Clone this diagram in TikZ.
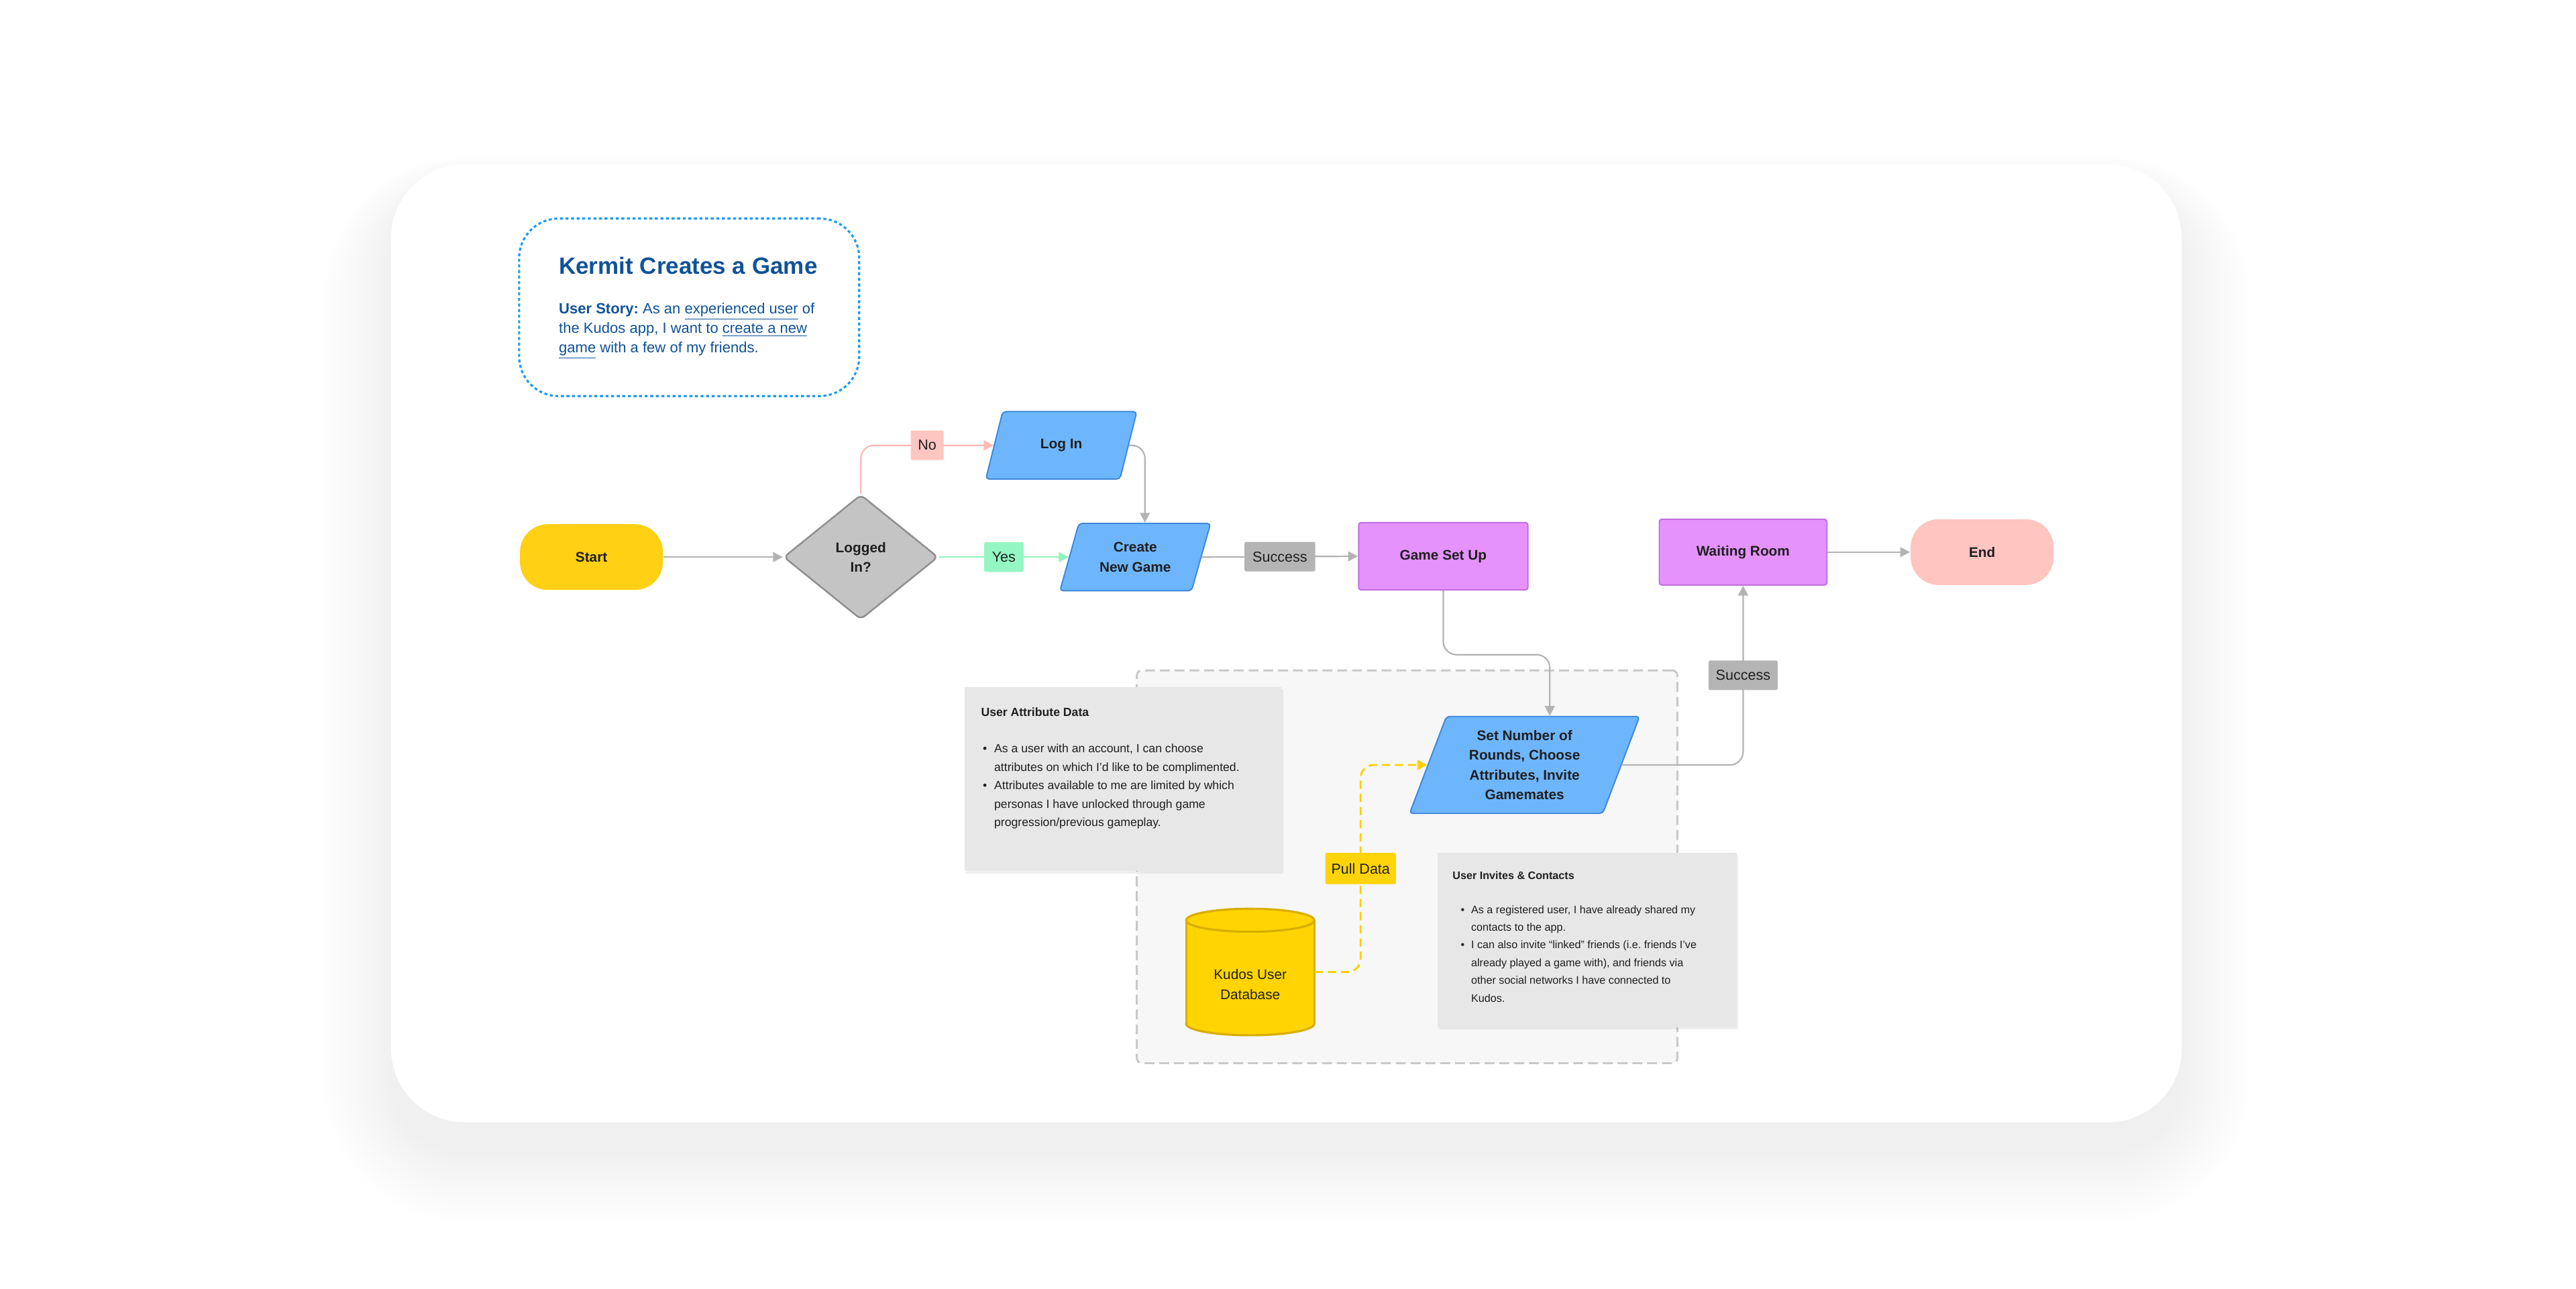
\documentclass[tikz,border=0pt]{standalone}
\usepackage{fontspec}
\setmainfont{Liberation Sans}
\usetikzlibrary{shapes.geometric, arrows.meta, shadows}
\frenchspacing

\definecolor{txt}{HTML}{1F1F1F}
\definecolor{startY}{HTML}{FFD013}
\definecolor{endP}{HTML}{FFC5C0}
\definecolor{purp}{HTML}{E592FC}
\definecolor{purpB}{HTML}{C16FDD}
\definecolor{sky}{HTML}{6EB6FC}
\definecolor{skyB}{HTML}{3F88DA}
\definecolor{diaF}{HTML}{C4C4C4}
\definecolor{diaB}{HTML}{8E8E8E}
\definecolor{lineG}{HTML}{B3B3B3}
\definecolor{succF}{HTML}{B4B4B4}
\definecolor{noF}{HTML}{FEC6C1}
\definecolor{noL}{HTML}{FDBAB5}
\definecolor{yesF}{HTML}{94F6C3}
\definecolor{yesL}{HTML}{8EF2BF}
\definecolor{pullF}{HTML}{FFD40A}
\definecolor{pullL}{HTML}{FFD000}
\definecolor{dbF}{HTML}{FFD400}
\definecolor{dbB}{HTML}{D8AE00}
\definecolor{noteF}{HTML}{E7E7E7}
\definecolor{grpF}{HTML}{F7F7F7}
\definecolor{grpB}{HTML}{C9C9C9}
\definecolor{storyB}{HTML}{1C9BF2}
\definecolor{storyT}{HTML}{0F5298}

\newcommand{\storyul}[1]{\underline{#1}}

\tikzset{
    flow/.style={line width=0.8pt, font=\fontsize{8.5}{12}\selectfont\bfseries, text=txt, align=center, inner sep=2pt},
    terminal/.style={flow, rectangle, rounded corners=17pt, minimum width=87pt, minimum height=40pt},
    process/.style={flow, rectangle, rounded corners=1.5pt, fill=purp, draw=purpB, minimum width=103pt, minimum height=41pt},
    io/.style={flow, trapezium, trapezium left angle=70, trapezium right angle=110, trapezium stretches=true,
        rounded corners=2pt, fill=sky, draw=skyB, minimum width=92pt, minimum height=41pt},
    decision/.style={flow, diamond, rounded corners=3pt, fill=diaF, draw=diaB, line width=1pt, minimum width=94pt, minimum height=76pt},
    conn/.style={draw=lineG, line width=0.9pt, rounded corners=8pt, -{Triangle[length=6pt, width=6pt]}},
    tag/.style={font=\fontsize{8.8}{10}\selectfont, text=txt, rounded corners=1pt, inner sep=0pt, minimum height=18pt},
    note/.style={fill=noteF, drop shadow={opacity=0.12, shadow xshift=1pt, shadow yshift=-1.5pt}},
    notehead/.style={anchor=base west, inner sep=0pt, text=txt, font=\bfseries},
    notebody/.style={anchor=north west, inner sep=0pt, text=txt, align=left}
}

\begin{document}
\begin{tikzpicture}[x=1pt, y=-1pt]
    % Draw the page and the card with its soft shadow
    \fill[white] (0,0) rectangle (1568,784);
    \useasboundingbox (0,0) rectangle (1568,784);
    \foreach \s [evaluate=\s as \r using 45+\s] in {0,3,...,42} {
        \fill[black, opacity=0.0035, rounded corners=\r pt] (238-\s,116-\s*0.5) rectangle (1328+\s,702+\s);
    }
    \fill[white, rounded corners=45pt] (238,100) rectangle (1328,683);

    % Draw the user story box
    \node[draw=storyB, fill=white, line width=1.3pt, dash pattern=on 1.8pt off 1.6pt, rounded corners=24pt,
        minimum width=207pt, minimum height=108pt] (story) at (419.5,187) {};
    \node[anchor=base west, inner sep=0pt, text=storyT, font=\fontsize{14.3}{17}\selectfont\bfseries] (title) at (340,167) {Kermit Creates a Game};
    \node[anchor=north west, inner sep=0pt, text=storyT, align=left, font=\fontsize{9}{12}\selectfont] (storytext) at (340,184)
        {\textbf{User Story:} As an \storyul{experienced user} of\\the Kudos app, I want to \storyul{create a new}\\\storyul{game} with a few of my friends.};

    % Draw the grouped data area
    \node[draw=grpB, fill=grpF, line width=1.2pt, dash pattern=on 6pt off 3pt, rounded corners=3pt,
        minimum width=329pt, minimum height=239pt] (grp) at (856.5,527.5) {};

    % Draw the note on attributes
    \node[note, minimum width=193pt, minimum height=112pt] (attr) at (683.5,474) {};
    \node[notehead, font=\fontsize{7.2}{9}\selectfont\bfseries] (attrT) at (597,436) {User Attribute Data};
    \node[notebody, font=\fontsize{7.2}{11.2}\selectfont] (attrL) at (598,450) {%
        \begin{tabular}{@{}l@{\hspace{4.5pt}}l@{}}
        \textbullet & As a user with an account, I can choose\\
                    & attributes on which I'd like to be complimented.\\
        \textbullet & Attributes available to me are limited by which\\
                    & personas I have unlocked through game\\
                    & progression/previous gameplay.
        \end{tabular}};

    % Draw the note on invites
    \node[note, minimum width=182pt, minimum height=106pt] (inv) at (966,572) {};
    \node[notehead, font=\fontsize{6.6}{9}\selectfont\bfseries] (invT) at (884,535) {User Invites \& Contacts};
    \node[notebody, font=\fontsize{6.6}{10.8}\selectfont] (invL) at (889,548) {%
        \begin{tabular}{@{}l@{\hspace{4pt}}l@{}}
        \textbullet & As a registered user, I have already shared my\\
                    & contacts to the app.\\
        \textbullet & I can also invite “linked” friends (i.e. friends I’ve\\
                    & already played a game with), and friends via\\
                    & other social networks I have connected to\\
                    & Kudos.
        \end{tabular}};

    % Draw the database cylinder
    \filldraw[fill=dbF, draw=dbB, line width=1.3pt] (761,623) ellipse [x radius=39, y radius=7];
    \fill[dbF] (722,560) rectangle (800,623);
    \draw[dbB, line width=1.3pt] (722,560) -- (722,623) (800,560) -- (800,623);
    \filldraw[fill=dbF, draw=dbB, line width=1.3pt] (761,560) ellipse [x radius=39, y radius=7];
    \node[minimum width=78pt, minimum height=63pt, inner sep=0pt] (db) at (761,591.5) {};
    \node[text=txt, align=center, font=\fontsize{8.5}{12}\selectfont] (dbname) at (761,599) {Kudos User\\Database};

    % Draw the flow nodes
    \node[terminal, fill=startY] (start) at (360,339) {Start};
    \node[decision] (logged) at (524,339) {Logged\\In?};
    \node[io] (login) at (646,271) {Log In};
    \node[io] (create) at (691,339) {Create\\New Game};
    \node[process] (setup) at (878.5,338.5) {Game Set Up};
    \node[io, minimum width=140pt, minimum height=59pt] (rounds) at (928,465.5) {Set Number of\\Rounds, Choose\\Attributes, Invite\\Gamemates};
    \node[process, minimum width=102pt, minimum height=40pt] (waiting) at (1061,336) {Waiting Room};
    \node[terminal, fill=endP] (end) at (1206.5,336) {End};

    % Draw the connectors
    \draw[conn] (start) -- (logged);
    \draw[conn, draw=noL] (logged.north) |- node[pos=0.75, tag, fill=noF, minimum width=20pt] (no) {No} (login.left side);
    \draw[conn, draw=yesL] (logged.east) -- node[tag, fill=yesF, minimum width=24pt] (yes) {Yes} (create.left side);
    \draw[conn] (login.right side) -| (create.top side);
    \draw[conn] (create.right side) -- node[tag, fill=succF, minimum width=43pt] (ok1) {Success} (setup.west);
    \draw[conn] (setup.south) -- ++(0,39) -| ([xshift=4pt]rounds.top side);
    \draw[conn] (rounds.right side) -| node[pos=0.75, tag, fill=succF, minimum width=42pt] (ok2) {Success} (waiting.south);
    \draw[conn] (waiting) -- (end);
    \draw[conn, draw=pullL, line width=1.2pt, dash pattern=on 5pt off 3pt]
        (db.east) -- ++(28,0) |- node[pos=0.25, tag, fill=pullF, minimum width=43pt, minimum height=19pt] (pull) {Pull Data} (rounds.left side);
\end{tikzpicture}
\end{document}
